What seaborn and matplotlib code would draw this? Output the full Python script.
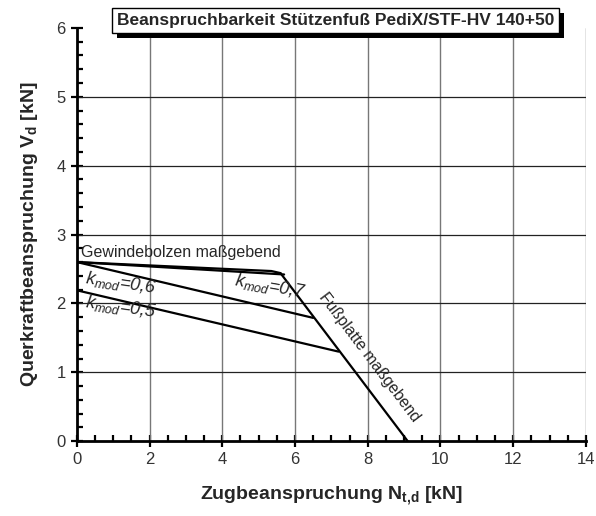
import numpy as np
import pandas as pd
import matplotlib
matplotlib.use('Agg')
import matplotlib.pyplot as plt
import matplotlib.patheffects as pe
from matplotlib.ticker import MultipleLocator
import seaborn as sns

# Interaction curves (N_t,d in kN, V_d in kN)
gewinde_x = [0.0, 5.35, 5.6]
gewinde_y = [2.60, 2.47, 2.44]
kmod07_x = [0.0, 5.7]
kmod07_y = [2.60, 2.42]
kmod06_x = [0.0, 6.5]
kmod06_y = [2.60, 1.79]
kmod05_x = [0.0, 7.2]
kmod05_y = [2.19, 1.30]
fuss_x = [5.6, 9.1]
fuss_y = [2.44, 0.0]

x_ticks = [0, 2, 4, 6, 8, 10, 12, 14]
y_ticks = [0, 1, 2, 3, 4, 5, 6]

sns.set_style('ticks')
plt.rcParams['font.family'] = ['Liberation Sans', 'DejaVu Sans']
plt.rcParams['mathtext.fontset'] = 'custom'
plt.rcParams['mathtext.rm'] = 'Liberation Sans'
plt.rcParams['mathtext.it'] = 'Liberation Sans:italic'
plt.rcParams['mathtext.bf'] = 'Liberation Sans:bold'

fig = plt.figure(figsize=(5.96, 5.16), dpi=100)
ax = fig.add_axes([0.129, 0.145, 0.854, 0.801])

# gridlines
for gx in x_ticks[1:]:
    ax.axvline(gx, color='#777777', lw=1.0, zorder=1)
for gy in y_ticks[1:-1]:
    ax.axhline(gy, color='#222222', lw=0.9, zorder=1)

curves = [
    ('Gewindebolzen', gewinde_x, gewinde_y),
    ('kmod 0,7', kmod07_x, kmod07_y),
    ('kmod 0,6', kmod06_x, kmod06_y),
    ('kmod 0,5', kmod05_x, kmod05_y),
    ('Fussplatte', fuss_x, fuss_y),
]
frames = []
for name, xs, ys in curves:
    frames.append(pd.DataFrame({'N': xs, 'V': ys, 'curve': name}))
df = pd.concat(frames, ignore_index=True)

sns.lineplot(data=df, x='N', y='V', units='curve', estimator=None, sort=False,
             color='black', lw=1.6, ax=ax, zorder=3)

ax.set_xlim(0, 14)
ax.set_ylim(0, 6)
ax.set_xticks(x_ticks)
ax.set_yticks(y_ticks)
ax.xaxis.set_minor_locator(MultipleLocator(0.5))
ax.yaxis.set_minor_locator(MultipleLocator(0.2))
ax.tick_params(which='major', direction='inout', length=9, width=1.6,
               labelsize=12, labelcolor='#333333', color='black')
ax.tick_params(which='minor', direction='in', length=4, width=1.6, color='black')

for s in ['top', 'right']:
    ax.spines[s].set_visible(False)
for s in ['left', 'bottom']:
    ax.spines[s].set_linewidth(2.0)
    ax.spines[s].set_color('black')

ax.set_xlabel(r'Zugbeanspruchung N$_{\mathbf{t{,}d}}$ [kN]', fontsize=14,
              fontweight='bold', labelpad=12)
ax.set_ylabel(r'Querkraftbeanspruchung V$_{\mathbf{d}}$ [kN]', fontsize=14,
              fontweight='bold', labelpad=12)

# annotations
ax.text(0.12, 2.74, 'Gewindebolzen maßgebend', fontsize=11.5, va='center',
        ha='left', zorder=4)
ax.text(0.2, 2.3, r'$k_{mod}$=0,6', fontsize=13, style='italic',
        rotation=-8, va='center', ha='left', zorder=4)
ax.text(0.2, 1.95, r'$k_{mod}$=0,5', fontsize=13, style='italic',
        rotation=-8, va='center', ha='left', zorder=4)
ax.text(4.3, 2.25, r'$k_{mod}$=0,7', fontsize=13, style='italic',
        rotation=-10, va='center', ha='left', zorder=4)
ax.text(8.05, 1.22, 'Fußplatte maßgebend', fontsize=11.5, rotation=-53,
        va='center', ha='center', rotation_mode='anchor', zorder=4)

# title box with drop shadow
t = fig.text(0.563, 0.96, 'Beanspruchbarkeit Stützenfuß PediX/STF-HV 140+50',
             fontsize=12.5, fontweight='bold', ha='center', va='center',
             bbox=dict(boxstyle='square,pad=0.3', fc='white', ec='black', lw=1.0))
t.get_bbox_patch().set_path_effects([
    pe.SimplePatchShadow(offset=(3.6, -3.6), shadow_rgbFace='black', alpha=1.0),
    pe.Normal()])

fig.savefig('out.png', dpi=100)
